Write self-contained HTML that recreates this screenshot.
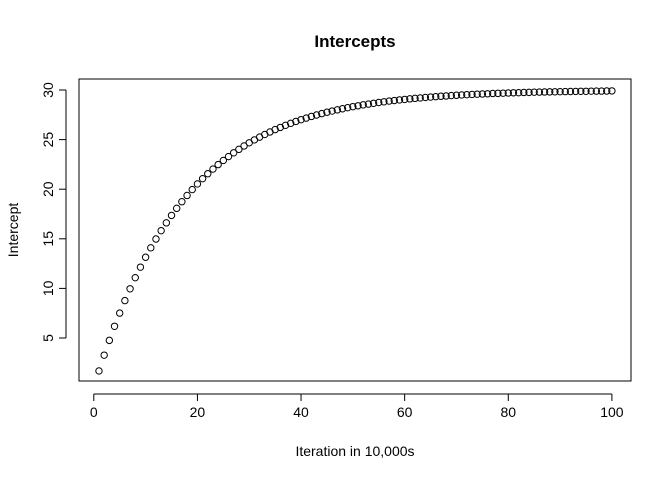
<!DOCTYPE html>
<html><head><meta charset="utf-8"><style>
body{margin:0;background:#fff}
svg text{font-family:"Liberation Sans",Arial,sans-serif;fill:#000}
</style></head><body>
<svg id="chart" width="672" height="480" xmlns="http://www.w3.org/2000/svg">
<rect width="672" height="480" fill="#fff"/>
<text x="355" y="47" text-anchor="middle" font-size="17" font-weight="bold">Intercepts</text>
<rect x="79" y="79" width="552" height="302" fill="none" stroke="#000" stroke-width="1"/>
<text x="355" y="456" text-anchor="middle" font-size="14">Iteration in 10,000s</text>
<text transform="translate(18,230) rotate(-90)" text-anchor="middle" font-size="14">Intercept</text>
<g id="xaxis"></g>
<g id="yaxis"></g>
<g id="points"></g>
</svg>
<script>
const xTicks=[0,20,40,60,80,100];
const yTicks=[5,10,15,20,25,30];
const intercepts=[1.68,3.27,4.76,6.18,7.51,8.77,9.96,11.08,12.14,13.14,14.09,14.98,15.82,16.61,17.36,18.07,18.74,19.37,19.96,20.53,21.06,21.56,22.03,22.48,22.90,23.29,23.67,24.02,24.36,24.68,24.97,25.25,25.52,25.77,26.01,26.23,26.44,26.64,26.83,27.01,27.17,27.33,27.48,27.62,27.76,27.88,28.00,28.11,28.22,28.32,28.41,28.50,28.58,28.66,28.74,28.81,28.88,28.94,29.00,29.05,29.11,29.16,29.20,29.25,29.29,29.33,29.37,29.40,29.44,29.47,29.50,29.53,29.55,29.58,29.60,29.62,29.65,29.66,29.68,29.70,29.72,29.73,29.75,29.76,29.78,29.79,29.80,29.81,29.82,29.83,29.84,29.85,29.86,29.87,29.87,29.88,29.89,29.89,29.90,29.91];
const NS="http://www.w3.org/2000/svg";
function sx(v){return 93.8+v*5.181;}
function sy(v){return 387.6-v*9.92;}
function mk(tag,attrs,parent){const e=document.createElementNS(NS,tag);for(const k in attrs)e.setAttribute(k,attrs[k]);parent.appendChild(e);return e;}
const xa=document.getElementById('xaxis'),ya=document.getElementById('yaxis'),pts=document.getElementById('points');
let l=mk('line',{x1:sx(xTicks[0]),x2:sx(xTicks[xTicks.length-1]),y1:394,y2:394,stroke:'#000'},xa);


xTicks.forEach(t=>{
 const tl=mk('line',{x1:sx(t),x2:sx(t),y1:394,y2:401,stroke:'#000'},xa);
 
 
 const tx=mk('text',{x:sx(t),y:417,'text-anchor':'middle','font-size':'14'},xa);
 tx.textContent=t;
 
 
});
l=mk('line',{x1:66,x2:66,y1:sy(yTicks[0]),y2:sy(yTicks[yTicks.length-1]),stroke:'#000'},ya);


yTicks.forEach(t=>{
 const tl=mk('line',{x1:59,x2:66,y1:sy(t),y2:sy(t),stroke:'#000'},ya);
 
 
 const tx=mk('text',{transform:`translate(53,${sy(t)}) rotate(-90)`,'text-anchor':'middle','font-size':'14'},ya);
 tx.textContent=t;
 
 
});
intercepts.forEach((v,i)=>{
 const c=mk('circle',{cx:sx(i+1),cy:sy(v),r:3.2,fill:'none',stroke:'#000','stroke-width':1},pts);
 
 
});
</script>
</body></html>
